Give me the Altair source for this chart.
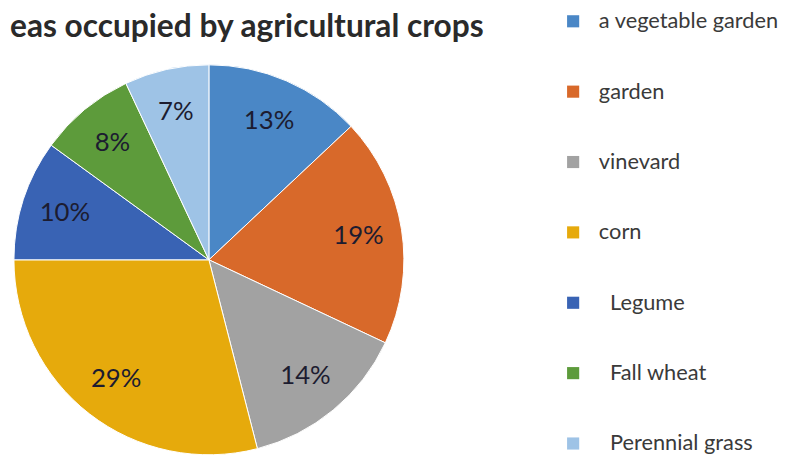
import altair as alt
import pandas as pd

title_text = "eas occupied by agricultural crops"
categories = ["a vegetable garden", "garden", "vinevard", "corn",
              "\u200b\u00a0\u00a0Legume", "\u200b\u00a0\u00a0Fall wheat",
              "\u200b\u00a0\u00a0Perennial grass"]
values = [13, 19, 14, 29, 10, 8, 7]
labels = ["13%", "19%", "14%", "29%", "10%", "8%", "7%"]
colors = ["#4a87c6", "#d8692a", "#a2a2a2", "#e6aa0c", "#3963b4", "#5d9b3b", "#9ec3e6"]

df = pd.DataFrame({
    "cat": categories,
    "val": values,
    "lab": labels,
    "idx": list(range(len(categories))),
})

color = alt.Color(
    "cat:N",
    scale=alt.Scale(domain=categories, range=colors),
    sort=categories,
    legend=alt.Legend(
        title=None, orient="none", legendX=560, legendY=0,
        symbolType="square", symbolSize=150, symbolStrokeWidth=0,
        labelFont="Lato", labelFontSize=22, labelColor="#3a3a3a",
        labelOffset=15, rowPadding=49.1, labelLimit=300,
    ),
)

base = alt.Chart(df).encode(
    theta=alt.Theta("val:Q", stack=True),
    order=alt.Order("idx:Q"),
)

pie = base.mark_arc(radius=197, stroke="white", strokeWidth=1).encode(
    color=color,
    x=alt.value(203),
    y=alt.value(252),
)

text = base.mark_text(radius=153, font="Lato", fontSize=26, color="#1c1c30").encode(
    text="lab:N",
    x=alt.value(203),
    y=alt.value(252),
)

title = alt.Chart(pd.DataFrame({"t": [title_text]})).mark_text(
    align="left", baseline="alphabetic", font="Lato", fontSize=32,
    fontWeight="bold", color="#2a2a2a",
).encode(text="t:N", x=alt.value(2), y=alt.value(27))

chart = alt.layer(pie, text, title).properties(
    width=779, height=467, padding=0,
    autosize=alt.AutoSizeParams(type="none"),
).configure_view(stroke=None)

chart.save("out.html", embed_options={"renderer": "svg", "actions": False})
